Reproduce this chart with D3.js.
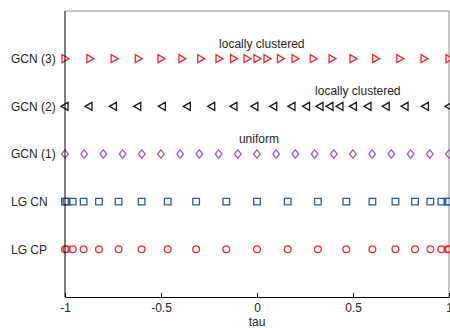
<!DOCTYPE html>
<html>
<head>
<meta charset="utf-8">
<script src="https://cdn.jsdelivr.net/npm/d3@7"></script>
<style>
  body { margin: 0; background: #fff; }
  text { font-family: "Liberation Sans", Arial, sans-serif; font-size: 12px; fill: #262626; }
</style>
</head>
<body>
<svg id="chart" width="450" height="328"></svg>
<script>
// rows, bottom to top
var rowNames = ["LG CP", "LG CN", "GCN (1)", "GCN (2)", "GCN (3)"];

// tau values
var lgCP = [-1, -0.992, -0.960, -0.903, -0.823, -0.721, -0.601, -0.465, -0.317, -0.160, 0,
            0.160, 0.317, 0.465, 0.601, 0.721, 0.823, 0.903, 0.960, 0.992, 1];
var lgCN = [-1, -0.992, -0.960, -0.903, -0.823, -0.721, -0.601, -0.465, -0.317, -0.160, 0,
            0.160, 0.317, 0.465, 0.601, 0.721, 0.823, 0.903, 0.960, 0.992, 1];
var gcn1 = [-1, -0.9, -0.8, -0.7, -0.6, -0.5, -0.4, -0.3, -0.2, -0.1, 0,
            0.1, 0.2, 0.3, 0.4, 0.5, 0.6, 0.7, 0.8, 0.9, 1];
var gcn2 = [-1, -0.875, -0.748, -0.621, -0.493, -0.363, -0.236, -0.12, -0.011, 0.087, 0.182,
            0.258, 0.328, 0.38, 0.432, 0.502, 0.578, 0.673, 0.771, 0.877, 1];
var gcn3 = [-1, -0.87, -0.744, -0.618, -0.5, -0.391, -0.293, -0.198, -0.122, -0.052, 0,
            0.052, 0.122, 0.198, 0.293, 0.391, 0.5, 0.618, 0.744, 0.87, 1];

var xTicks = [-1, -0.5, 0, 0.5, 1];

// annotations: [text, tau, row]
var notes = [
  ["locally clustered", 0.025, 5],
  ["locally clustered", 0.525, 4],
  ["uniform", 0.01, 3]
];

var width = 450, height = 328;
var svg = d3.select("#chart");

var x = d3.scaleLinear().domain([-1, 1]).range([65, 449]);
var y = d3.scaleLinear().domain([0, 6]).range([297, 11]);

var shapes = {
  right: "M-3,-4L4,0L-3,4Z",
  left: "M3,-4L-4,0L3,4Z",
  diamond: "M0,-4.2L3.4,0L0,4.2L-3.4,0Z",
  square: "M-3.3,-3.3H3.3V3.3H-3.3Z",
  circle: d3.symbol().type(d3.symbolCircle).size(36)()
};

var series = [
  { row: 1, data: lgCP, shape: "circle", color: "#ee2a2f" },
  { row: 2, data: lgCN, shape: "square", color: "#2c5aaa" },
  { row: 3, data: gcn1, shape: "diamond", color: "#a55cb5" },
  { row: 4, data: gcn2, shape: "left", color: "#1a1a1a" },
  { row: 5, data: gcn3, shape: "right", color: "#ee2a2f" }
];

// box
svg.append("line").attr("x1", x(-1)).attr("x2", x(1)).attr("y1", y(6)).attr("y2", y(6))
  .attr("stroke", "#8c8c8c").attr("stroke-width", 1);
svg.append("line").attr("x1", x(1)).attr("x2", x(1)).attr("y1", y(6)).attr("y2", y(0))
  .attr("stroke", "#8c8c8c").attr("stroke-width", 1);

series.forEach(function (s) {
  svg.append("g").selectAll("path")
    .data(s.data)
    .enter().append("path")
    .attr("transform", function (d) { return "translate(" + x(d) + "," + y(s.row) + ")"; })
    .attr("d", shapes[s.shape])
    .attr("fill", "none")
    .attr("stroke", s.color)
    .attr("stroke-width", 1.3);
});

// x axis
var xAxis = svg.append("g")
  .attr("transform", "translate(0," + y(0) + ")")
  .call(d3.axisBottom(x).tickValues(xTicks).tickSizeInner(-4).tickSizeOuter(0).tickPadding(6)
    .tickFormat(function (d) { return String(d); }));
xAxis.select(".domain").attr("stroke", "#000");
xAxis.selectAll(".tick line").attr("stroke", "#000");
xAxis.selectAll("text").attr("font-family", null).attr("font-size", null);

// left axis line
svg.append("line").attr("x1", x(-1)).attr("x2", x(-1)).attr("y1", y(6)).attr("y2", y(0) + 0.5)
  .attr("stroke", "#000").attr("stroke-width", 1);

// row labels
svg.append("g").selectAll("text")
  .data(rowNames)
  .enter().append("text")
  .attr("x", 11)
  .attr("y", function (d, i) { return y(i + 1); })
  .attr("dy", "0.35em")
  .attr("text-anchor", "start")
  .text(function (d) { return d; });

// annotations
svg.append("g").selectAll("text")
  .data(notes)
  .enter().append("text")
  .attr("x", function (d) { return x(d[1]); })
  .attr("y", function (d) { return y(d[2]) - 11; })
  .attr("text-anchor", "middle")
  .text(function (d) { return d[0]; });

svg.append("text")
  .attr("x", x(0))
  .attr("y", 326)
  .attr("text-anchor", "middle")
  .text("tau");
</script>
</body>
</html>
